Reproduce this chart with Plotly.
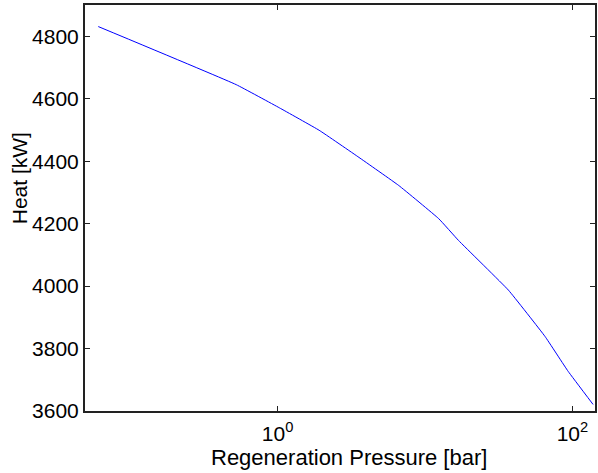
import plotly.graph_objects as go

pressure_bar = [0.0608, 0.524, 1.027, 1.913, 3.565, 6.64, 12.38, 16.89, 36.8, 65.1, 93.5, 138.0]
heat_kw = [4831, 4645, 4571, 4499, 4412, 4322, 4216, 4146, 3987, 3839, 3727, 3621]

x_tickvals = [1, 100]
x_ticktext = ["10<sup>0</sup>", "10<sup>2</sup>"]
y_tickvals = [3600, 3800, 4000, 4200, 4400, 4600, 4800]

fig = go.Figure()
fig.add_trace(go.Scatter(x=pressure_bar, y=heat_kw, mode="lines",
                         line=dict(color="#0000ff", width=1, shape="spline", smoothing=0.3),
                         showlegend=False))

font = dict(family="Liberation Sans, Arial, sans-serif", size=21, color="black")
xtitle_font = dict(family="Liberation Sans, Arial, sans-serif", size=22, color="black")
ytitle_font = dict(family="Liberation Sans, Arial, sans-serif", size=21, color="black")
fig.update_layout(
    width=598, height=473,
    margin=dict(l=85, r=1, t=5, b=62),
    paper_bgcolor="white", plot_bgcolor="white",
    font=font,
    xaxis=dict(type="log", range=[-1.306, 2.153],
               tickvals=x_tickvals, ticktext=x_ticktext,
               ticks="inside", ticklen=5, tickcolor="#222",
               showline=True, linecolor="#222", linewidth=2, mirror="ticks",
               showgrid=False, zeroline=False, ticklabelstandoff=3,
               tickfont=font),
    yaxis=dict(range=[3600, 4900], tickvals=y_tickvals,
               ticks="inside", ticklen=5, tickcolor="#222",
               showline=True, linecolor="#222", linewidth=2, mirror="ticks",
               showgrid=False, zeroline=False,
               tickfont=font),
    annotations=[
        dict(text="Regeneration Pressure [bar]", xref="paper", yref="paper",
             x=(350 - 85) / 512, y=(411 - 457) / 406, xanchor="center", yanchor="middle",
             showarrow=False, font=xtitle_font),
        dict(text="Heat [kW]", xref="paper", yref="paper", textangle=-90,
             x=(19 - 85) / 512, y=(411 - 178) / 406, xanchor="center", yanchor="middle",
             showarrow=False, font=ytitle_font),
    ],
)
fig.write_html("out.html")
